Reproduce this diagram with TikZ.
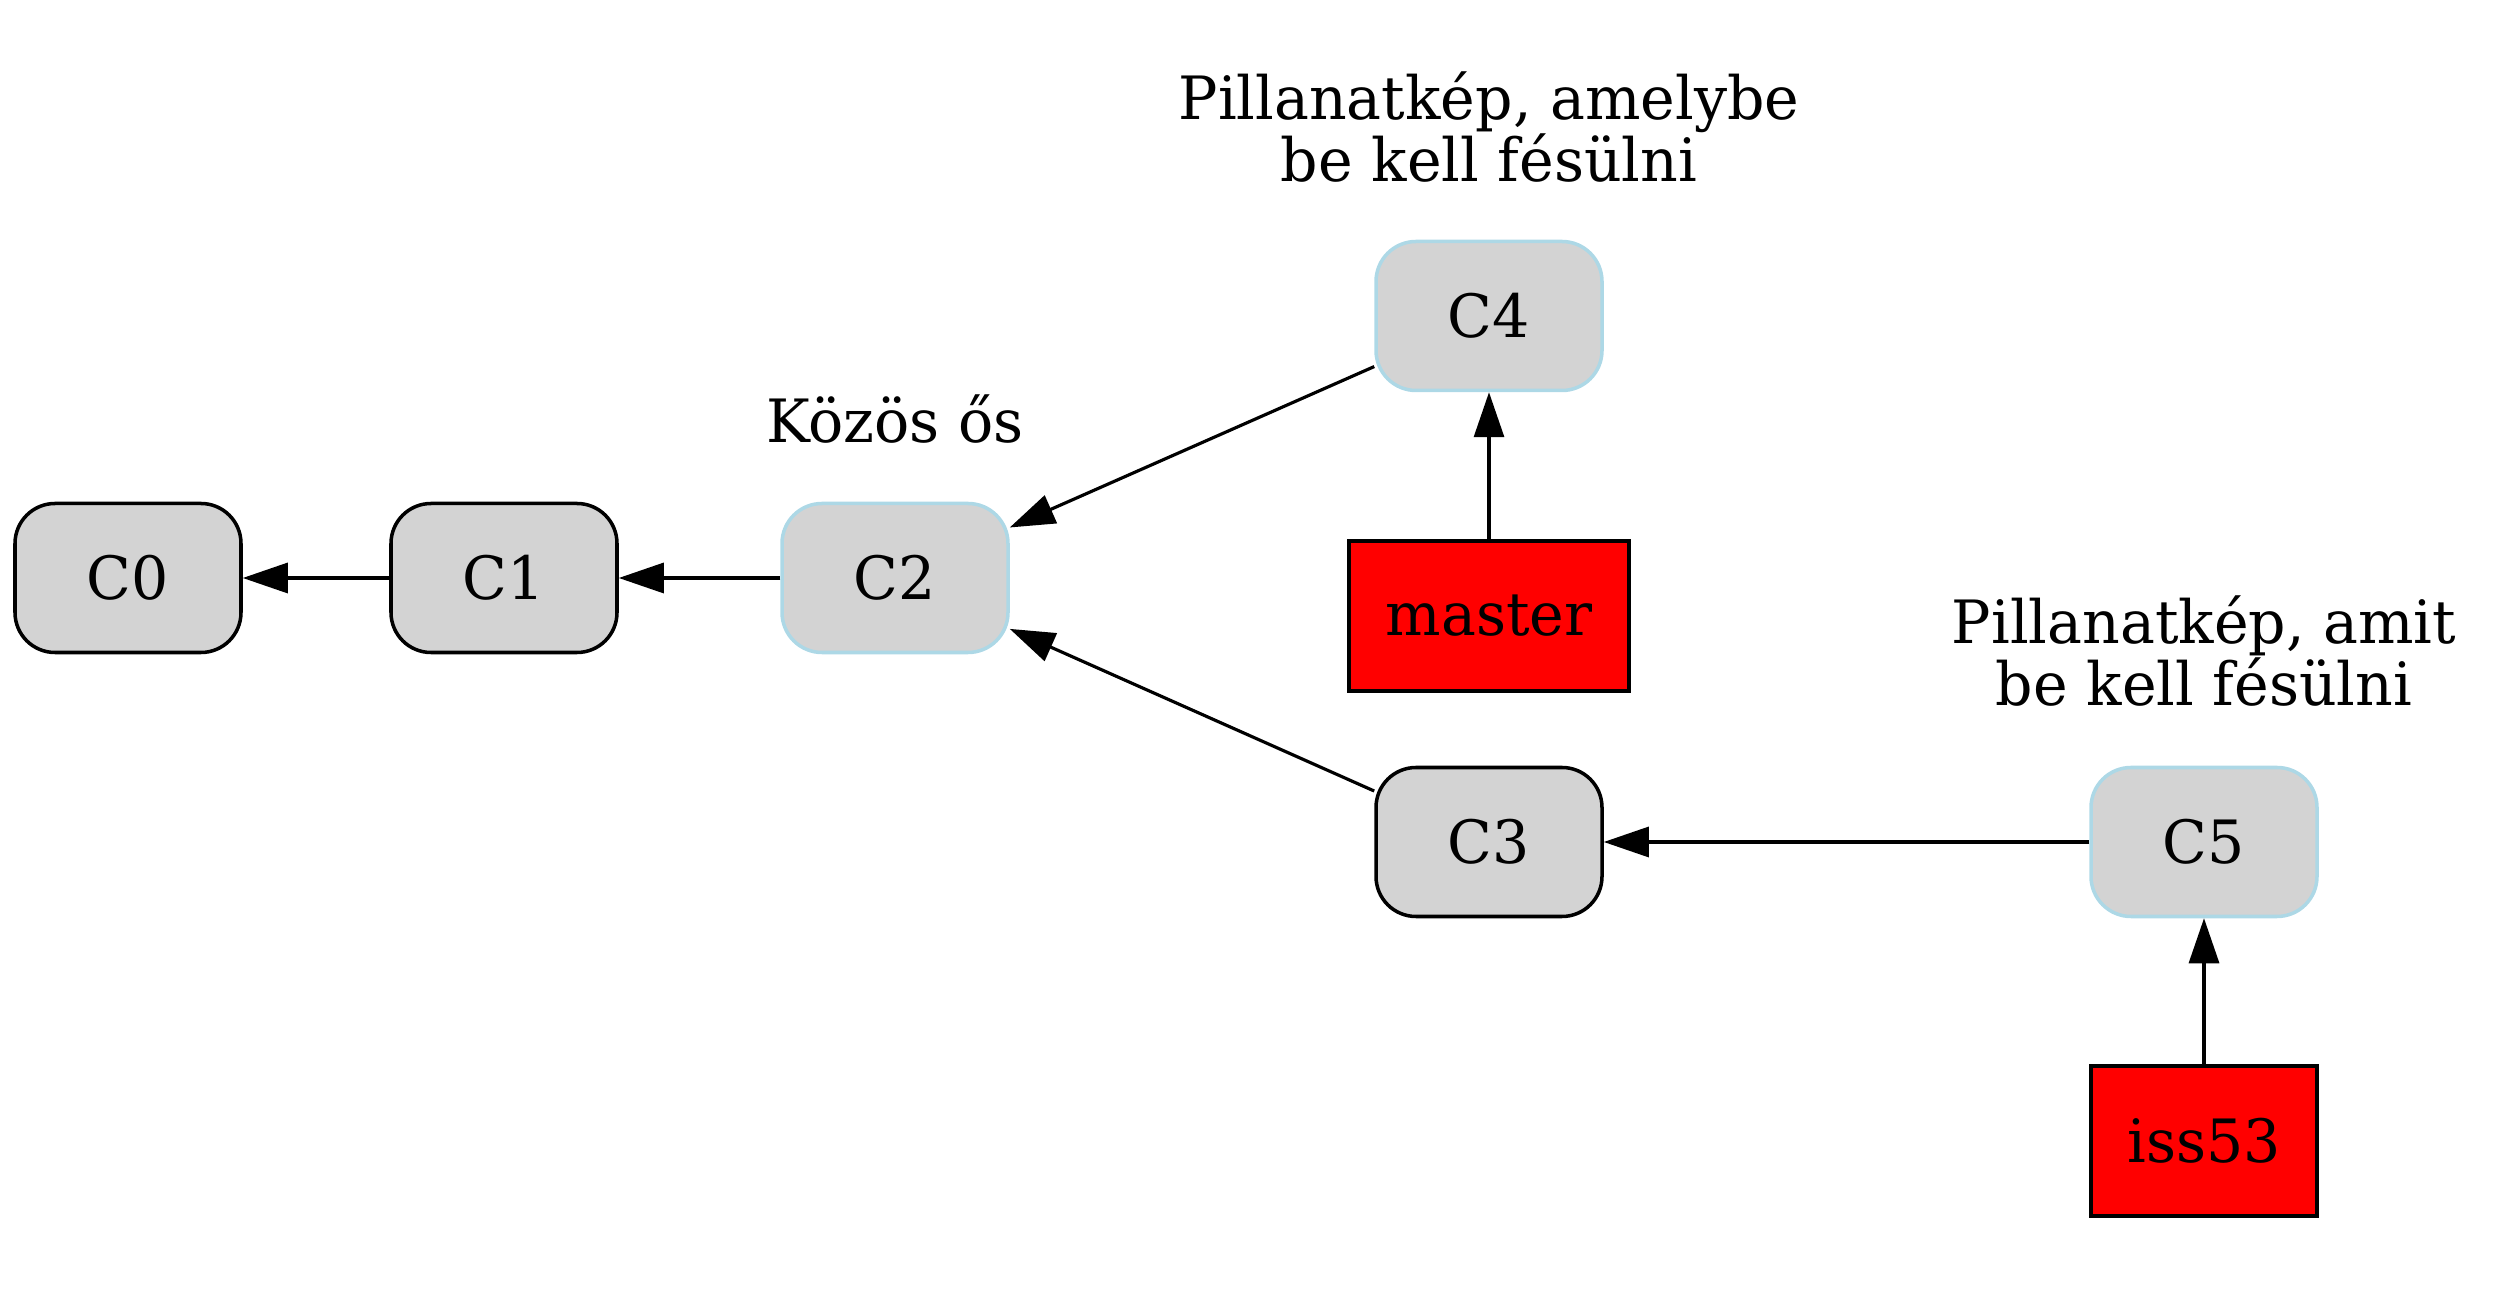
\documentclass[tikz,border=0pt]{standalone}
\usepackage{fontspec}
\setmainfont[FakeStretch=0.98]{DejaVu Serif}
\usetikzlibrary{arrows.meta}

\definecolor{boxgray}{HTML}{D3D3D3}
\definecolor{lightblue}{HTML}{ADD8E6}

\tikzset{
  commit/.style={draw=black,fill=boxgray,rounded corners=0.4cm,line width=1pt,
    minimum width=2.26cm,minimum height=1.49cm,font=\fontsize{17}{20}\selectfont},
  hilite/.style={commit,draw=lightblue},
  branch/.style={draw=black,fill=red,line width=1pt,
    minimum height=1.5cm,inner xsep=0.3cm,font=\fontsize{17}{20}\selectfont},
  note/.style={align=center,font=\fontsize{17}{17.6}\selectfont},
  parent/.style={-{Triangle[length=0.45cm,width=0.3cm]},line width=0.9pt}
}

\begin{document}
\begin{tikzpicture}
\useasboundingbox (0,0) rectangle (25.08,-13);

\node[commit] (C0) at (1.28,-5.78) {C0};
\node[commit] (C1) at (5.04,-5.78) {C1};
\node[hilite] (C2) at (8.95,-5.78) {C2};
\node[hilite] (C4) at (14.89,-3.16) {C4};
\node[commit] (C3) at (14.89,-8.42) {C3};
\node[hilite] (C5) at (22.04,-8.42) {C5};

\node[branch,minimum width=2.8cm] (master) at (14.89,-6.16) {master};
\node[branch,minimum width=2.26cm] (iss53) at (22.04,-11.41) {iss53};

\node[note] (kozos) at (8.95,-4.19) {Közös ős};
\node[note] (pill1) at (14.89,-1.27) {Pillanatkép, amelybe\\be kell fésülni};
\node[note] (pill2) at (22.04,-6.51) {Pillanatkép, amit\\be kell fésülni};

\draw[parent] (C1) -- (C0);
\draw[parent] (C2) -- (C1);
\draw[parent] (C4) -- (C2);
\draw[parent] (C3) -- (C2);
\draw[parent] (C5) -- (C3);
\draw[parent] (master) -- (C4);
\draw[parent] (iss53) -- (C5);

\end{tikzpicture}
\end{document}
